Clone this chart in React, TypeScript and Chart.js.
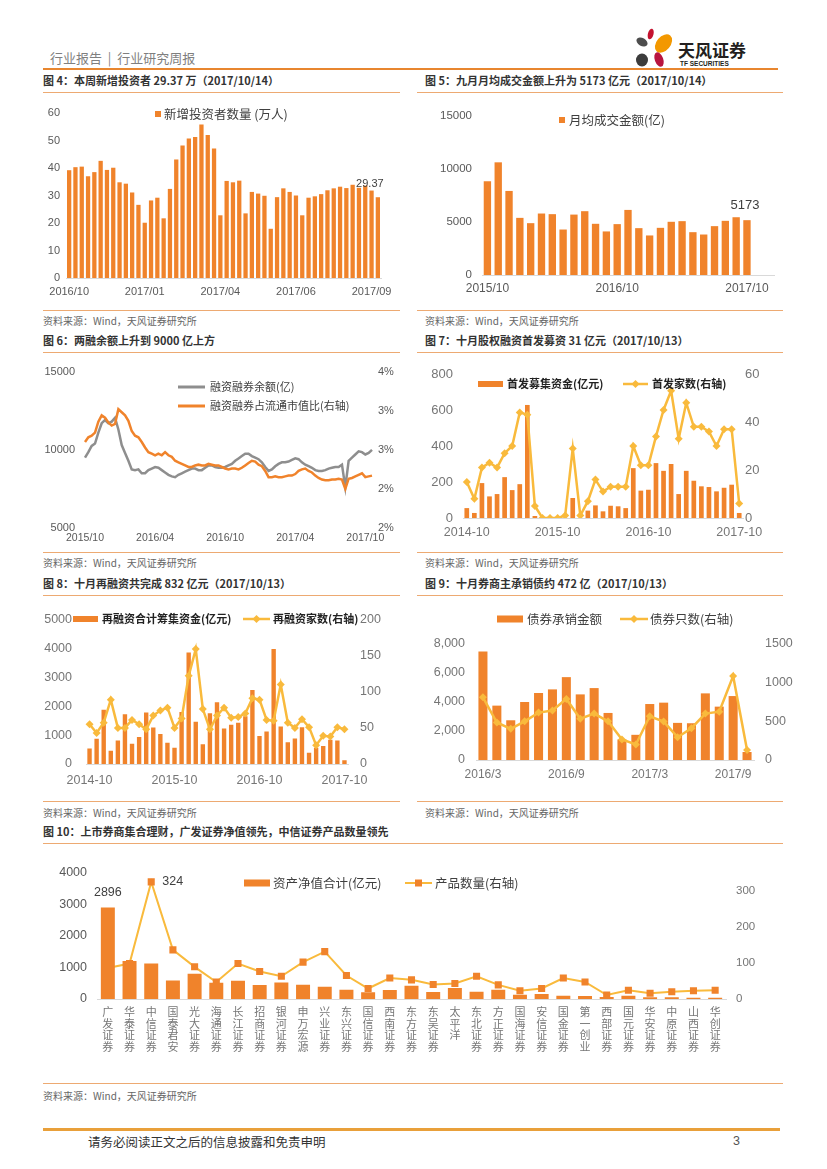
import React, { useEffect, useRef } from 'react';
import { Chart, registerables } from 'chart.js';

Chart.register(...registerables);

// ---------------- data ----------------
// 图4 weekly new investors (万人)
const investorTickNames = ['2016/10', '2017/01', '2017/04', '2017/06', '2017/09'];
const newInvestors = [39.2, 40.3, 40.5, 37.0, 38.5, 42.6, 39.3, 40.1, 34.8, 34.3, 31.1, 26.6, 20.1, 28.2, 29.2, 21.7, 32.4, 43.1, 48.2, 50.7, 51.3, 55.8, 52.0, 47.1, 22.8, 35.3, 34.8, 35.4, 23.5, 31.3, 30.7, 29.9, 17.9, 29.4, 32.6, 31.3, 30.0, 22.8, 29.2, 29.7, 30.5, 31.9, 32.6, 33.2, 32.7, 33.9, 32.8, 33.6, 31.8, 29.37];

// 图5 monthly average turnover (亿)
const tradeAmount = [8840, 10630, 7930, 5390, 4890, 5800, 5740, 4290, 5700, 6020, 4830, 4110, 4800, 6140, 4420, 3730, 4450, 5020, 5080, 4040, 3820, 4610, 5110, 5450, 5173];

// 图6 margin balance (亿) and ratio to float cap (%)
const marginTickNames = ['2015/10', '2016/04', '2016/10', '2017/04', '2017/10'];
const marginBalance = [9500, 9850, 10250, 10400, 11100, 11700, 11900, 11700, 11800, 12050,
  11300, 10300, 9800, 9300, 8750, 8700, 8750, 8500, 8500, 8700,
  8800, 8900, 8850, 8700, 8550, 8400, 8300, 8250, 8400, 8500,
  8600, 8700, 8800, 8800, 8700, 8700, 8850, 9000, 9000, 8900,
  8850, 8850, 8900, 9000, 9100, 9300, 9450, 9600, 9750, 9750,
  9600, 9500, 9400, 9200, 8900, 8650, 8750, 8950, 9100, 9200,
  9200, 9250, 9350, 9450, 9400, 9200, 9050, 8950, 8850, 8700,
  8650, 8650, 8700, 8800, 8850, 8900, 8900, 9050, 7600, 9300,
  9500, 9700, 9900, 9850, 9700, 9800, 10000];
const marginRatio = [2.90, 2.96, 2.98, 3.02, 3.16, 3.24, 3.21, 3.15, 3.11, 3.13,
  3.32, 3.28, 3.24, 3.17, 3.04, 2.98, 2.96, 2.90, 2.83, 2.77,
  2.75, 2.73, 2.75, 2.73, 2.77, 2.73, 2.71, 2.66, 2.64, 2.62,
  2.60, 2.58, 2.58, 2.60, 2.61, 2.60, 2.60, 2.62, 2.61, 2.60,
  2.60, 2.58, 2.56, 2.55, 2.56, 2.56, 2.55, 2.57, 2.60, 2.63,
  2.66, 2.65, 2.61, 2.59, 2.53, 2.45, 2.45, 2.46, 2.45, 2.45,
  2.46, 2.47, 2.47, 2.49, 2.53, 2.55, 2.56, 2.53, 2.51, 2.47,
  2.44, 2.42, 2.41, 2.41, 2.42, 2.42, 2.43, 2.42, 2.30, 2.43,
  2.44, 2.46, 2.48, 2.50, 2.45, 2.46, 2.47];

// 图7 IPO
const ipoFunds = [55, 28, 194, 120, 133, 227, 155, 188, 628, 11, 0, 0, 0, 0, 111, 0, 41, 70, 37, 68, 65, 55, 277, 152, 157, 305, 262, 300, 133, 262, 207, 176, 172, 148, 168, 185, 28];
const ipoCount = [15, 8, 21, 23, 21, 27, 30, 44, 43, 5, 0, 0, 0, 1, 29, 1, 7, 16, 11, 13, 13, 13, 30, 22, 22, 34, 45, 53, 33, 48, 38, 38, 36, 30, 37, 37, 6];

// 图8 refinancing
const refiFunds = [540, 875, 1880, 455, 810, 1720, 700, 930, 1780, 1265, 1035, 735, 560, 1795, 3855, 1460, 680, 1760, 2140, 1230, 1360, 1425, 1650, 2560, 970, 1125, 3975, 1300, 755, 885, 1275, 390, 560, 625, 840, 810, 130];
const refiCount = [55, 43, 57, 89, 50, 50, 61, 55, 48, 67, 74, 78, 50, 63, 122, 159, 76, 48, 67, 78, 64, 65, 70, 91, 89, 61, 60, 110, 57, 50, 62, 51, 26, 39, 38, 51, 48];

// 图9 bond underwriting
const bondAmount = [7475, 3750, 2740, 4000, 4620, 4870, 5715, 4525, 4960, 3245, 1420, 1737, 3860, 3955, 2560, 2535, 4595, 3680, 4410, 550];
const bondCount = [810, 485, 403, 500, 613, 640, 790, 535, 600, 500, 265, 200, 565, 497, 295, 411, 600, 625, 1085, 130];

// 图10 broker collective wealth management
const brokers = ['广发证券', '华泰证券', '中信证券', '国泰君安', '光大证券', '海通证券', '长江证券', '招商证券', '银河证券', '申万宏源', '兴业证券', '东兴证券', '国信证券', '西南证券', '东方证券', '东吴证券', '太平洋', '东北证券', '方正证券', '国海证券', '安信证券', '国金证券', '第一创业', '西部证券', '国元证券', '华安证券', '中原证券', '山西证券', '华创证券'];
const netAssets = [2896, 1200, 1120, 585, 795, 512, 575, 440, 522, 450, 387, 293, 210, 282, 418, 220, 345, 230, 293, 136, 157, 105, 94, 63, 105, 52, 52, 42, 42];
const products = [86, 98, 324, 136, 89, 47, 98, 76, 63, 102, 131, 65, 29, 58, 53, 40, 43, 63, 39, 23, 29, 58, 47, 11, 24, 16, 20, 23, 24];

// ---------------- helpers ----------------
function monthLabels(y: number, m: number, n: number, sep: string, pad: boolean): string[] {
  const out: string[] = [];
  for (let i = 0; i < n; i++) {
    const k = m - 1 + i;
    const mm = (k % 12) + 1;
    const yy = y + Math.floor(k / 12);
    out.push(`${yy}${sep}${pad && mm < 10 ? '0' + mm : mm}`);
  }
  return out;
}
function sparseLabels(n: number, every: number, names: string[]): string[] {
  const out: string[] = new Array(n).fill('');
  names.forEach((nm, i) => { if (i * every < n) out[i * every] = nm; });
  return out;
}

const FONT = "'Liberation Sans', 'Noto Sans CJK SC', sans-serif";
const CJK = "'Noto Sans CJK SC', 'Liberation Sans', sans-serif";
const ORANGE = '#F0832B';
const GOLD = '#F9BA3C';
const GRAYLINE = '#8E8E8E';
const TICK_D = '#595959';
const TICK_L = '#767676';

type Box = { left: number; top: number; width: number; height: number };
type LegendItem = { kind: 'square' | 'bar' | 'line'; x: number; w: number; h?: number; y: number; tx: number; text: string; color: string; marker?: 'diamond' | 'square'; markerColor?: string; font: string; textColor?: string; lw?: number };
type DataLabel = { ds: number; idx: number; text: string; dx: number; dy: number; align?: CanvasTextAlign; font: string; color: string };

function drawMarker(ctx: CanvasRenderingContext2D, kind: string, x: number, y: number, r: number, color: string) {
  ctx.fillStyle = color;
  ctx.beginPath();
  if (kind === 'diamond') {
    ctx.moveTo(x, y - r); ctx.lineTo(x + r, y); ctx.lineTo(x, y + r); ctx.lineTo(x - r, y); ctx.closePath();
  } else {
    ctx.rect(x - r, y - r, 2 * r, 2 * r);
  }
  ctx.fill();
}

function overlay(box: Box, legend: LegendItem[], labels: DataLabel[]) {
  return {
    id: 'overlay',
    afterDatasetsDraw(chart: any) {
      const ctx: CanvasRenderingContext2D = chart.ctx;
      ctx.save();
      for (const l of labels) {
        const el = chart.getDatasetMeta(l.ds).data[l.idx];
        if (!el) continue;
        ctx.font = l.font; ctx.fillStyle = l.color; ctx.textAlign = l.align || 'center'; ctx.textBaseline = 'middle';
        ctx.fillText(l.text, el.x + l.dx, el.y + l.dy);
      }
      for (const g of legend) {
        const x = g.x - box.left, y = g.y - box.top, tx = g.tx - box.left;
        if (g.kind === 'line') {
          ctx.strokeStyle = g.color; ctx.lineWidth = g.lw || 2.5;
          ctx.beginPath(); ctx.moveTo(x, y); ctx.lineTo(x + g.w, y); ctx.stroke();
          if (g.marker) drawMarker(ctx, g.marker, x + g.w / 2, y, g.marker === 'diamond' ? 4 : 3.5, g.markerColor || g.color);
        } else {
          const h = g.h || g.w;
          ctx.fillStyle = g.color; ctx.fillRect(x, y - h / 2, g.w, h);
        }
        ctx.font = g.font; ctx.fillStyle = g.textColor || '#404040'; ctx.textAlign = 'left'; ctx.textBaseline = 'middle';
        ctx.fillText(g.text, tx, y);
      }
      ctx.restore();
    },
  };
}

function base(padTop: number, padRight: number) {
  return {
    responsive: false,
    animation: false,
    events: [],
    layout: { padding: { top: padTop, right: padRight, left: 0, bottom: 0 } },
    plugins: { legend: { display: false }, tooltip: { enabled: false } },
  };
}

function xAxis(o: { height: number; size: number; padding: number; color: string; every?: number; offset?: boolean; border?: boolean; lineHeight?: number }) {
  return {
    type: 'category',
    offset: o.offset !== false,
    grid: { display: false, drawTicks: false },
    border: { display: o.border !== false, color: '#D9D9D9', width: 1 },
    ticks: {
      autoSkip: false, maxRotation: 0, minRotation: 0, padding: o.padding, color: o.color,
      font: { family: FONT, size: o.size, lineHeight: o.lineHeight || 1.2 },
      callback: function (this: any, v: any, i: number) {
        if (o.every && i % o.every !== 0) return '';
        return this.getLabelForValue(v);
      },
    },
    afterFit: (s: any) => { s.height = o.height; },
  };
}

function yAxis(o: { position: 'left' | 'right'; width: number; min: number; max: number; step: number; padding: number; size: number; color: string; fmt?: (v: number) => string; includeBounds?: boolean }) {
  const ticks: any = { stepSize: o.step, padding: o.padding, color: o.color, font: { family: FONT, size: o.size }, includeBounds: o.includeBounds !== false };
  if (o.fmt) ticks.callback = (v: any) => o.fmt!(Number(v));
  return {
    type: 'linear', position: o.position, min: o.min, max: o.max,
    grid: { display: false, drawTicks: false }, border: { display: false },
    ticks,
    afterFit: (s: any) => { s.width = o.width; },
  };
}

const plain = (v: number) => String(v);

function ChartCanvas({ box, make }: { box: Box; make: () => any }) {
  const ref = useRef<HTMLCanvasElement>(null);
  useEffect(() => {
    const chart = new Chart(ref.current as HTMLCanvasElement, make());
    return () => chart.destroy();
  }, []);
  return (
    <canvas ref={ref} width={box.width} height={box.height}
      style={{ position: 'absolute', left: box.left, top: box.top, width: box.width, height: box.height }} />
  );
}

// ---------------- chart configs ----------------
const box4: Box = { left: 40, top: 95, width: 370, height: 210 };
const make4 = () => ({
  type: 'bar',
  data: {
    labels: sparseLabels(newInvestors.length, 12, investorTickNames),
    datasets: [{ data: newInvestors, backgroundColor: ORANGE, barPercentage: 0.68, categoryPercentage: 1 }],
  },
  options: {
    ...base(18, 29),
    scales: {
      x: xAxis({ height: 27, size: 11, padding: 7, color: TICK_D }),
      y: yAxis({ position: 'left', width: 26, min: 0, max: 60, step: 10, padding: 6, size: 11, color: TICK_D, fmt: plain }),
    },
  },
  plugins: [overlay(box4,
    [{ kind: 'square', x: 155, w: 6, y: 114, tx: 164, text: '新增投资者数量 (万人)', color: ORANGE, font: `12.5px ${CJK}` }],
    [{ ds: 0, idx: newInvestors.length - 1, text: '29.37', dx: -8, dy: -13, font: `11px ${FONT}`, color: '#404040' }])],
});

const box5: Box = { left: 415, top: 95, width: 380, height: 210 };
const make5 = () => ({
  type: 'bar',
  data: {
    labels: [...monthLabels(2015, 10, 25, '/', true), '', ''],
    datasets: [{ data: tradeAmount, backgroundColor: ORANGE, barPercentage: 0.68, categoryPercentage: 1 }],
  },
  options: {
    ...base(21, 21),
    scales: {
      x: xAxis({ height: 30, size: 12, padding: 6, color: TICK_D, every: 12 }),
      y: yAxis({ position: 'left', width: 67, min: 0, max: 15000, step: 5000, padding: 10, size: 11.5, color: TICK_D, fmt: plain }),
    },
  },
  plugins: [overlay(box5,
    [{ kind: 'square', x: 559, w: 6, y: 120, tx: 569, text: '月均成交金额(亿)', color: ORANGE, font: `12.5px ${CJK}` }],
    [{ ds: 0, idx: tradeAmount.length - 1, text: '5173', dx: -2, dy: -15, font: `13px ${FONT}`, color: '#404040' }])],
});

const box6: Box = { left: 40, top: 355, width: 370, height: 195 };
const make6 = () => ({
  type: 'line',
  data: {
    labels: sparseLabels(marginBalance.length, 21, marginTickNames),
    datasets: [
      { data: marginBalance, yAxisID: 'y', borderColor: GRAYLINE, borderWidth: 2.5, pointRadius: 0, tension: 0, order: 1 },
      { data: marginRatio, yAxisID: 'y1', borderColor: ORANGE, borderWidth: 2.5, pointRadius: 0, tension: 0, order: 0 },
    ],
  },
  options: {
    ...base(16, 0),
    scales: {
      x: xAxis({ height: 22, size: 10.5, padding: 4, color: TICK_D, offset: false, border: false }),
      y: yAxis({ position: 'left', width: 45, min: 5000, max: 15000, step: 5000, padding: 10, size: 11, color: TICK_D, fmt: plain }),
      y1: yAxis({ position: 'right', width: 38, min: 1.8, max: 3.8, step: 0.5, padding: 6, size: 11, color: TICK_D, fmt: (v) => Math.round(v) + '%' }),
    },
  },
  plugins: [overlay(box6,
    [
      { kind: 'line', x: 178, w: 27, y: 387, tx: 210, text: '融资融券余额(亿)', color: GRAYLINE, font: `11px ${CJK}`, lw: 3 },
      { kind: 'line', x: 178, w: 27, y: 406, tx: 210, text: '融资融券占流通市值比(右轴)', color: ORANGE, font: `11px ${CJK}`, lw: 3 },
    ], [])],
});

const box7: Box = { left: 415, top: 355, width: 380, height: 195 };
const make7 = () => ({
  type: 'bar',
  data: {
    labels: monthLabels(2014, 10, 37, '-', true),
    datasets: [
      { type: 'bar', data: ipoFunds, yAxisID: 'y', backgroundColor: ORANGE, barPercentage: 0.62, categoryPercentage: 1, order: 1 },
      { type: 'line', data: ipoCount, yAxisID: 'y1', borderColor: GOLD, borderWidth: 2.5, pointStyle: 'rectRot', pointRadius: 4, pointBackgroundColor: GOLD, pointBorderColor: GOLD, pointBorderWidth: 0, tension: 0, order: 0 },
    ],
  },
  options: {
    ...base(19, 0),
    scales: {
      x: xAxis({ height: 32, size: 12.5, padding: 7.5, color: TICK_L, every: 12 }),
      y: yAxis({ position: 'left', width: 48, min: 0, max: 800, step: 200, padding: 10, size: 13, color: TICK_L, fmt: plain }),
      y1: yAxis({ position: 'right', width: 52, min: 0, max: 60, step: 20, padding: 2, size: 13, color: TICK_L, fmt: plain }),
    },
  },
  plugins: [overlay(box7,
    [
      { kind: 'bar', x: 478, w: 25, h: 6, y: 384, tx: 507, text: '首发募集资金(亿元)', color: ORANGE, font: `bold 11px ${CJK}`, textColor: '#222' },
      { kind: 'line', x: 623, w: 25, y: 384, tx: 652, text: '首发家数(右轴)', color: GOLD, marker: 'diamond', font: `bold 11px ${CJK}`, textColor: '#222' },
    ], [])],
});

const box8: Box = { left: 40, top: 598, width: 370, height: 195 };
const make8 = () => ({
  type: 'bar',
  data: {
    labels: monthLabels(2014, 10, 37, '-', true),
    datasets: [
      { type: 'bar', data: refiFunds, yAxisID: 'y', backgroundColor: ORANGE, barPercentage: 0.62, categoryPercentage: 1, order: 1 },
      { type: 'line', data: refiCount, yAxisID: 'y1', borderColor: GOLD, borderWidth: 2.5, pointStyle: 'rectRot', pointRadius: 4, pointBackgroundColor: GOLD, pointBorderColor: GOLD, pointBorderWidth: 0, tension: 0, order: 0 },
    ],
  },
  options: {
    ...base(12, 0),
    scales: {
      x: xAxis({ height: 29, size: 12.5, padding: 9, color: TICK_L, every: 12 }),
      y: yAxis({ position: 'left', width: 46, min: 0, max: 5000, step: 1000, padding: 14, size: 12.5, color: TICK_L, fmt: plain }),
      y1: yAxis({ position: 'right', width: 62, min: 0, max: 200, step: 50, padding: 12, size: 12.5, color: TICK_L, fmt: plain }),
    },
  },
  plugins: [overlay(box8,
    [
      { kind: 'bar', x: 73, w: 25, h: 6, y: 619, tx: 102, text: '再融资合计筹集资金(亿元)', color: ORANGE, font: `bold 11px ${CJK}`, textColor: '#222' },
      { kind: 'line', x: 243, w: 27, y: 619, tx: 273, text: '再融资家数(右轴)', color: GOLD, marker: 'diamond', font: `bold 11px ${CJK}`, textColor: '#222' },
    ], [])],
});

const box9: Box = { left: 415, top: 598, width: 380, height: 195 };
const make9 = () => ({
  type: 'bar',
  data: {
    labels: monthLabels(2016, 3, 20, '/', false),
    datasets: [
      { type: 'bar', data: bondAmount, yAxisID: 'y', backgroundColor: ORANGE, barPercentage: 0.65, categoryPercentage: 1, order: 1 },
      { type: 'line', data: bondCount, yAxisID: 'y1', borderColor: GOLD, borderWidth: 2.5, pointStyle: 'rectRot', pointRadius: 4, pointBackgroundColor: GOLD, pointBorderColor: GOLD, pointBorderWidth: 0, tension: 0, order: 0 },
    ],
  },
  options: {
    ...base(46, 0),
    scales: {
      x: xAxis({ height: 33, size: 12, padding: 7.5, color: TICK_L, every: 6 }),
      y: yAxis({ position: 'left', width: 61, min: 0, max: 8000, step: 2000, padding: 11, size: 12.5, color: TICK_L, fmt: (v) => v.toLocaleString('en-US') }),
      y1: yAxis({ position: 'right', width: 41, min: 0, max: 1500, step: 500, padding: 11, size: 12.5, color: TICK_L, fmt: plain }),
    },
  },
  plugins: [overlay(box9,
    [
      { kind: 'bar', x: 497, w: 26, h: 7, y: 619, tx: 527, text: '债券承销金额', color: ORANGE, font: `12.5px ${CJK}` },
      { kind: 'line', x: 620, w: 28, y: 619, tx: 650, text: '债券只数(右轴)', color: GOLD, marker: 'diamond', font: `12.5px ${CJK}` },
    ], [])],
});

const box10: Box = { left: 40, top: 855, width: 750, height: 225 };
const make10 = () => ({
  type: 'bar',
  data: {
    labels: brokers.map((b) => b.split('')),
    datasets: [
      { type: 'bar', data: netAssets, yAxisID: 'y', backgroundColor: ORANGE, barPercentage: 0.645, categoryPercentage: 1, order: 0 },
      { type: 'line', data: products, yAxisID: 'y1', borderColor: GOLD, borderWidth: 2, pointStyle: 'rect', pointRadius: 5, pointBackgroundColor: ORANGE, pointBorderColor: ORANGE, pointBorderWidth: 0, tension: 0, order: 1 },
    ],
  },
  options: {
    ...base(17, 0),
    scales: {
      x: xAxis({ height: 81, size: 11, padding: 8, color: TICK_L, lineHeight: 1.06 }),
      y: yAxis({ position: 'left', width: 57, min: 0, max: 4000, step: 1000, padding: 10, size: 12.5, color: TICK_D, fmt: plain }),
      y1: yAxis({ position: 'right', width: 64, min: 0, max: 350, step: 100, padding: 10, size: 11.5, color: TICK_L, fmt: plain, includeBounds: false }),
    },
  },
  plugins: [overlay(box10,
    [
      { kind: 'bar', x: 244, w: 26, h: 7, y: 883, tx: 273, text: '资产净值合计(亿元)', color: ORANGE, font: `12.5px ${CJK}` },
      { kind: 'line', x: 405, w: 27, y: 883, tx: 435, text: '产品数量(右轴)', color: GOLD, marker: 'square', markerColor: ORANGE, font: `12.5px ${CJK}`, lw: 2 },
    ],
    [
      { ds: 0, idx: 0, text: String(netAssets[0]), dx: 0, dy: -15, font: `12.5px ${FONT}`, color: '#404040' },
      { ds: 1, idx: 2, text: String(products[2]), dx: 11, dy: 0, align: 'left', font: `12.5px ${FONT}`, color: '#404040' },
    ])],
});

// ---------------- page ----------------
function Txt({ x, cy, size, children, color = '#333', bold = false, family = CJK }: any) {
  return (
    <div style={{ position: 'absolute', left: x, top: cy - size * 0.6, fontSize: size, lineHeight: `${size * 1.2}px`, color, fontWeight: bold ? 700 : 400, fontFamily: family, whiteSpace: 'pre' }}>
      {children}
    </div>
  );
}
function HLine({ x1, x2, y, w = 1, color = '#EDAA72' }: any) {
  return <div style={{ position: 'absolute', left: x1, top: y - w / 2, width: x2 - x1, height: w, background: color }} />;
}

const titles = [
  { x: 43, cy: 81, t: '图 4：本周新增投资者 29.37 万（2017/10/14）' },
  { x: 425, cy: 81, t: '图 5：九月月均成交金额上升为 5173 亿元（2017/10/14）' },
  { x: 43, cy: 341, t: '图 6：两融余额上升到 9000 亿上方' },
  { x: 425, cy: 341, t: '图 7：十月股权融资首发募资 31 亿元（2017/10/13）' },
  { x: 43, cy: 584, t: '图 8：十月再融资共完成 832 亿元（2017/10/13）' },
  { x: 425, cy: 584, t: '图 9：十月券商主承销债约 472 亿（2017/10/13）' },
  { x: 43, cy: 832, t: '图 10：上市券商集合理财，广发证券净值领先，中信证券产品数量领先' },
];
const SOURCE = '资料来源：Wind，天风证券研究所';
const sources = [
  { x: 43, cy: 321 }, { x: 425, cy: 321 },
  { x: 43, cy: 563 }, { x: 425, cy: 563 },
  { x: 43, cy: 813 }, { x: 425, cy: 813 },
  { x: 43, cy: 1096 },
];

export default function App() {
  return (
    <div style={{ position: 'absolute', left: 0, top: 0, width: 827, height: 1169, background: '#fff', overflow: 'hidden', fontFamily: CJK }}>
      {/* header */}
      <Txt x={50} cy={58} size={13} color="#7F7F7F">{'行业报告  |  行业研究周报'}</Txt>
      <svg style={{ position: 'absolute', left: 0, top: 0 }} width={827} height={80}>
        <ellipse cx={650.7} cy={34} rx={2.8} ry={5.5} fill="#C4122F" transform="rotate(15 650.7 34)" />
        <ellipse cx={642} cy={42} rx={6} ry={4} fill="#4D4D4D" transform="rotate(30 642 42)" />
        <ellipse cx={663.5} cy={43.5} rx={7} ry={10.5} fill="#F39800" transform="rotate(40 663.5 43.5)" />
        <ellipse cx={642} cy={60} rx={6} ry={6.5} fill="#3C3C3C" />
        <ellipse cx={659} cy={59.5} rx={4.2} ry={7.5} fill="#B8143F" transform="rotate(-20 659 59.5)" />
      </svg>
      <Txt x={678} cy={50} size={17} bold color="#231F20">天风证券</Txt>
      <Txt x={680} cy={63.5} size={6.5} bold color="#231F20" family="'Liberation Sans Narrow', 'Liberation Sans', sans-serif">TF SECURITIES</Txt>
      <HLine x1={43} x2={778} y={69} w={2} color="#E8862F" />

      {/* title underlines */}
      <HLine x1={43} x2={400} y={92} />
      <HLine x1={417} x2={783} y={92} />
      <HLine x1={43} x2={400} y={352} />
      <HLine x1={417} x2={783} y={352} />
      <HLine x1={43} x2={400} y={595} />
      <HLine x1={417} x2={783} y={595} />
      <HLine x1={43} x2={783} y={843} />
      {/* figure bottom lines */}
      <HLine x1={43} x2={400} y={310} />
      <HLine x1={417} x2={783} y={310} />
      <HLine x1={43} x2={400} y={552} />
      <HLine x1={417} x2={783} y={552} />
      <HLine x1={43} x2={400} y={801} />
      <HLine x1={417} x2={783} y={801} />
      <HLine x1={43} x2={783} y={1083} />

      {titles.map((t, i) => (
        <Txt key={'t' + i} x={t.x} cy={t.cy} size={11} bold color="#333">{t.t}</Txt>
      ))}
      {sources.map((s, i) => (
        <Txt key={'s' + i} x={s.x} cy={s.cy} size={10} color="#666">{SOURCE}</Txt>
      ))}

      <ChartCanvas box={box4} make={make4} />
      <ChartCanvas box={box5} make={make5} />
      <ChartCanvas box={box6} make={make6} />
      <ChartCanvas box={box7} make={make7} />
      <ChartCanvas box={box8} make={make8} />
      <ChartCanvas box={box9} make={make9} />
      <ChartCanvas box={box10} make={make10} />

      {/* footer */}
      <HLine x1={43} x2={780} y={1129} w={3} color="#E9A03A" />
      <Txt x={88} cy={1141} size={12.5} color="#333">请务必阅读正文之后的信息披露和免责申明</Txt>
      <Txt x={733} cy={1141} size={12.5} color="#555" family={FONT}>3</Txt>
    </div>
  );
}
